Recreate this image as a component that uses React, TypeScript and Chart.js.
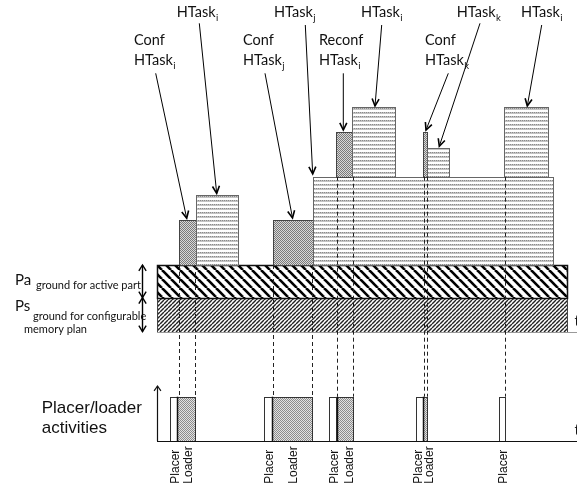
import React, { useEffect, useRef } from "react";
import { Chart, registerables } from "chart.js";
Chart.register(...registerables);

// ---------- axes (time t, memory level, activity level) ----------
const T_MIN = -157;
const T_MAX = 420;
const MEM_MIN = -160.3;
const MEM_MAX = 331.7;
const ACT_MIN = -1.137;
const ACT_MAX = 9.895;

// ---------- ground layers of the memory plan ----------
const bandNames = ["Ps", "Pa"];
const bandStart = [0, 0];
const bandEnd = [410, 410];
const bandLow = [0, 34];
const bandHigh = [34, 66.7];

// ---------- hardware tasks placed in memory ----------
const taskKind = ["conf", "task", "conf", "task", "conf", "task", "conf", "task", "task"];
const taskStart = [22, 38.7, 116.3, 156, 179, 195.3, 266.3, 270, 347.5];
const taskEnd = [38.7, 81.3, 156, 396.3, 195.3, 238.3, 270, 292.3, 390.5];
const taskLow = [66.7, 66.7, 66.7, 66.7, 155, 155, 155, 155, 155];
const taskHigh = [112, 136.7, 112, 155, 199.4, 224.4, 199.4, 184, 224.4];

// ---------- labels of tasks ----------
const labelPrefix = ["Conf", "", "Conf", "", "Reconf", "", "Conf", "", ""];
const labelSub = ["i", "i", "j", "j", "i", "i", "k", "k", "i"];
const labelT = [-23, 19.7, 86, 117, 162, 204, 268, 299.7, 364];
const labelMem = [286.7, 314.7, 286.7, 314.7, 286.7, 314.7, 286.7, 314.7, 314.7];
const arrowFromT = [-1.3, 42.3, 108, 148.3, 186.3, 224.7, 291.3, 323, 384.7];
const arrowFromMem = [258.4, 308.4, 258.4, 306.7, 258.4, 306.7, 258.4, 308.4, 306.7];
const arrowToT = [29.7, 59.7, 135.5, 155.7, 186.3, 218, 269, 282.3, 370.3];
const arrowToMem = [113.4, 138.4, 113.7, 157.7, 201.7, 225.7, 201.7, 185.5, 225.7];

// ---------- dashed projections to activities ----------
const dashT = [22, 38.3, 116.3, 155, 180, 195.7, 267, 270.3, 347.7];
const dashFromMem = [66.7, 66.7, 66.7, 66.7, 155, 155, 155, 155, 155];

// ---------- placer / loader activities ----------
const placerStart = [13, 107.3, 172.3, 259, 341.7];
const placerEnd = [19.7, 114.7, 179, 265.7, 348.3];
const loaderStart = [19.7, 114.7, 180, 266.3];
const loaderEnd = [37.7, 155, 196.3, 270.3];
const activityLevel = 1;
const placerLabelT = [22, 116, 181, 265, 350];
const loaderLabelT = [35, 140, 196, 276];
const activityLabels = ["Placer", "Loader"];

const ANN_FONT = "Lato, 'Open Sans', sans-serif";
const ARIAL = "'Liberation Sans', Arial, sans-serif";

function makeTile(w: number, h: number, draw: (c: CanvasRenderingContext2D) => void) {
  const cv = document.createElement("canvas");
  cv.width = w;
  cv.height = h;
  const c = cv.getContext("2d")!;
  draw(c);
  return cv;
}

function arrowHead(ctx: CanvasRenderingContext2D, x1: number, y1: number, x2: number, y2: number, len = 7, ang = 0.5) {
  const a = Math.atan2(y2 - y1, x2 - x1);
  ctx.beginPath();
  ctx.moveTo(x2 - len * Math.cos(a - ang), y2 - len * Math.sin(a - ang));
  ctx.lineTo(x2, y2);
  ctx.lineTo(x2 - len * Math.cos(a + ang), y2 - len * Math.sin(a + ang));
  ctx.stroke();
}

const diagramPlugin = {
  id: "diagram",
  afterDatasetsDraw(chart: any) {
    const ctx: CanvasRenderingContext2D = chart.ctx;
    const X = (t: number) => chart.scales.x.getPixelForValue(t);
    const YM = (m: number) => chart.scales.yMem.getPixelForValue(m);
    const YA = (a: number) => chart.scales.yAct.getPixelForValue(a);

    // patterns
    const taskPat = ctx.createPattern(
      makeTile(4, 4, (c) => {
        c.fillStyle = "#fff";
        c.fillRect(0, 0, 4, 4);
        c.fillStyle = "#8a8a8a";
        c.fillRect(0, 0, 1, 1);
        c.fillRect(2, 0, 1, 1);
        c.fillStyle = "#c4c4c4";
        c.fillRect(1, 0, 1, 1);
        c.fillRect(3, 0, 1, 1);
        c.fillRect(0, 1, 4, 1);
      }),
      "repeat"
    )!;
    const confPat = ctx.createPattern(
      makeTile(2, 2, (c) => {
        c.fillStyle = "#d8d8d8";
        c.fillRect(0, 0, 2, 2);
        c.fillStyle = "#7a7a7a";
        c.fillRect(0, 0, 1, 1);
        c.fillRect(1, 1, 1, 1);
      }),
      "repeat"
    )!;
    const loaderPat = ctx.createPattern(
      makeTile(2, 2, (c) => {
        c.fillStyle = "#e2e2e2";
        c.fillRect(0, 0, 2, 2);
        c.fillStyle = "#8c8c8c";
        c.fillRect(0, 0, 1, 1);
        c.fillRect(1, 1, 1, 1);
      }),
      "repeat"
    )!;
    const paPat = ctx.createPattern(
      makeTile(9, 9, (c) => {
        c.fillStyle = "#fff";
        c.fillRect(0, 0, 9, 9);
        c.strokeStyle = "#000";
        c.lineWidth = 2.6;
        for (let k = -1; k <= 1; k++) {
          c.beginPath();
          c.moveTo(k * 9, 0);
          c.lineTo(k * 9 + 9, 9);
          c.stroke();
        }
      }),
      "repeat"
    )!;
    const psPat = ctx.createPattern(
      makeTile(4, 4, (c) => {
        c.fillStyle = "#fff";
        c.fillRect(0, 0, 4, 4);
        c.strokeStyle = "#222";
        c.lineWidth = 1.4;
        for (let k = -1; k <= 1; k++) {
          c.beginPath();
          c.moveTo(k * 4, 4);
          c.lineTo(k * 4 + 4, 0);
          c.stroke();
        }
      }),
      "repeat"
    )!;

    const rect = (x0: number, y0: number, x1: number, y1: number, fill: any, stroke: string, lw = 1) => {
      const l = Math.round(x0), r = Math.round(x1), t = Math.round(y0), b = Math.round(y1);
      ctx.fillStyle = fill;
      ctx.fillRect(l, t, r - l, b - t);
      ctx.strokeStyle = stroke;
      ctx.lineWidth = lw;
      ctx.strokeRect(l + 0.5, t + 0.5, r - l, b - t);
    };

    ctx.save();

    // ground layers
    for (let i = 0; i < bandNames.length; i++) {
      const isPa = bandNames[i] === "Pa";
      rect(X(bandStart[i]), YM(bandHigh[i]), X(bandEnd[i]), YM(bandLow[i]), isPa ? paPat : psPat, isPa ? "#111" : "#444", isPa ? 1.5 : 1);
    }
    // baseline of memory plan
    ctx.strokeStyle = "#999";
    ctx.lineWidth = 1;
    ctx.beginPath();
    ctx.moveTo(X(0), Math.round(YM(0)) + 0.5);
    ctx.lineTo(X(T_MAX), Math.round(YM(0)) + 0.5);
    ctx.stroke();

    // tasks
    for (let i = 0; i < taskKind.length; i++) {
      const conf = taskKind[i] === "conf";
      rect(X(taskStart[i]), YM(taskHigh[i]), X(taskEnd[i]), YM(taskLow[i]), conf ? confPat : taskPat, conf ? "#444" : "#666");
    }

    // activities
    for (let i = 0; i < placerStart.length; i++) {
      rect(X(placerStart[i]), YA(activityLevel), X(placerEnd[i]), YA(0), "#fff", "#333");
    }
    for (let i = 0; i < loaderStart.length; i++) {
      rect(X(loaderStart[i]), YA(activityLevel), X(loaderEnd[i]), YA(0), loaderPat, "#333");
      ctx.strokeStyle = "#111";
      ctx.lineWidth = 1.5;
      ctx.beginPath();
      ctx.moveTo(Math.round(X(loaderStart[i])) + 0.5, YA(activityLevel));
      ctx.lineTo(Math.round(X(loaderStart[i])) + 0.5, YA(0));
      ctx.stroke();
    }
    // activity axis
    ctx.strokeStyle = "#111";
    ctx.lineWidth = 1.2;
    ctx.beginPath();
    ctx.moveTo(X(0), Math.round(YA(0)) + 0.5);
    ctx.lineTo(X(T_MAX), Math.round(YA(0)) + 0.5);
    ctx.stroke();
    ctx.beginPath();
    ctx.moveTo(Math.round(X(0)) + 0.5, YA(0));
    ctx.lineTo(Math.round(X(0)) + 0.5, YA(1.24));
    ctx.stroke();
    arrowHead(ctx, X(0) + 0.5, YA(0), X(0) + 0.5, YA(1.24), 6, 0.6);

    // dashed projections
    ctx.strokeStyle = "#222";
    ctx.lineWidth = 1;
    ctx.setLineDash([4, 3]);
    for (let i = 0; i < dashT.length; i++) {
      const x = Math.round(X(dashT[i])) + 0.5;
      ctx.beginPath();
      ctx.moveTo(x, YM(dashFromMem[i]));
      ctx.lineTo(x, YA(activityLevel));
      ctx.stroke();
    }
    ctx.setLineDash([]);

    // ground double arrows
    ctx.strokeStyle = "#000";
    ctx.lineWidth = 1.4;
    const ax = Math.round(X(-15)) + 0.5;
    const segs = [[bandHigh[1], bandLow[1]], [bandHigh[0], bandLow[0]]];
    for (const [hi, lo] of segs) {
      ctx.beginPath();
      ctx.moveTo(ax, YM(hi));
      ctx.lineTo(ax, YM(lo));
      ctx.stroke();
      arrowHead(ctx, ax, YM(lo), ax, YM(hi), 7, 0.55);
      arrowHead(ctx, ax, YM(hi), ax, YM(lo), 7, 0.55);
    }

    // task label arrows
    ctx.strokeStyle = "#000";
    for (let i = 0; i < arrowFromT.length; i++) {
      const x1 = X(arrowFromT[i]), y1 = YM(arrowFromMem[i]), x2 = X(arrowToT[i]), y2 = YM(arrowToMem[i]);
      ctx.lineWidth = 1;
      ctx.beginPath();
      ctx.moveTo(x1, y1);
      ctx.lineTo(x2, y2);
      ctx.stroke();
      ctx.lineWidth = 1.6;
      arrowHead(ctx, x1, y1, x2, y2, 8, 0.45);
    }

    // task labels
    ctx.fillStyle = "#111";
    ctx.textBaseline = "alphabetic";
    ctx.textAlign = "left";
    for (let i = 0; i < labelT.length; i++) {
      const x = X(labelT[i]);
      let y = YM(labelMem[i]);
      ctx.font = `14.5px ${ANN_FONT}`;
      if (labelPrefix[i]) {
        ctx.fillText(labelPrefix[i], x, y);
        y += 20;
      }
      ctx.fillText("HTask", x, y);
      const w = ctx.measureText("HTask").width;
      ctx.font = `9.5px ${ANN_FONT}`;
      ctx.fillText(labelSub[i], x + w + 0.5, y + 3.5);
    }

    // ground texts
    ctx.font = `15px ${ANN_FONT}`;
    ctx.fillText("Pa", X(-142), YM(46.7));
    ctx.fillText("Ps", X(-142), YM(20.7));
    ctx.font = `11px ${ANN_FONT}`;
    ctx.fillText("ground for active part", X(-121), YM(43));
    ctx.fillText("ground for configurable", X(-124), YM(12));
    ctx.fillText("memory plan", X(-133), YM(-1));

    // time markers
    ctx.font = `15px ${ANN_FONT}`;
    ctx.fillText("t", X(417.5), YM(6));
    ctx.fillText("t", X(417.5), YA(0.14));

    // activity texts
    ctx.font = `17px ${ARIAL}`;
    ctx.fillText("Placer/loader", X(-115.3), YA(0.63));
    ctx.fillText("activities", X(-115.3), YA(0.18));

    ctx.font = `12px ${ARIAL}`;
    const rot = (label: string, t: number) => {
      ctx.save();
      ctx.translate(X(t), YA(-0.95));
      ctx.rotate(-Math.PI / 2);
      ctx.fillText(label, 0, 0);
      ctx.restore();
    };
    placerLabelT.forEach((t) => rot(activityLabels[0], t));
    loaderLabelT.forEach((t) => rot(activityLabels[1], t));

    ctx.restore();
  },
};

export default function App() {
  const ref = useRef<HTMLCanvasElement>(null);
  useEffect(() => {
    const canvas = ref.current!;
    const chart = new Chart(canvas, {
      type: "scatter",
      data: { datasets: [{ data: [], xAxisID: "x", yAxisID: "yMem" }] },
      options: {
        animation: false,
        responsive: false,
        devicePixelRatio: 1,
        layout: { padding: 0 },
        plugins: { legend: { display: false }, tooltip: { enabled: false } },
        scales: {
          x: { type: "linear", display: false, min: T_MIN, max: T_MAX },
          y: { type: "linear", display: false },
          yMem: { type: "linear", axis: "y", display: false, min: MEM_MIN, max: MEM_MAX },
          yAct: { type: "linear", axis: "y", display: false, min: ACT_MIN, max: ACT_MAX },
        },
      } as any,
      plugins: [diagramPlugin as any],
    });
    return () => chart.destroy();
  }, []);
  return (
    <div style={{ position: "fixed", left: 0, top: 0, width: 577, height: 492, background: "#fff" }}>
      <canvas ref={ref} width={577} height={492} style={{ display: "block" }} />
    </div>
  );
}
